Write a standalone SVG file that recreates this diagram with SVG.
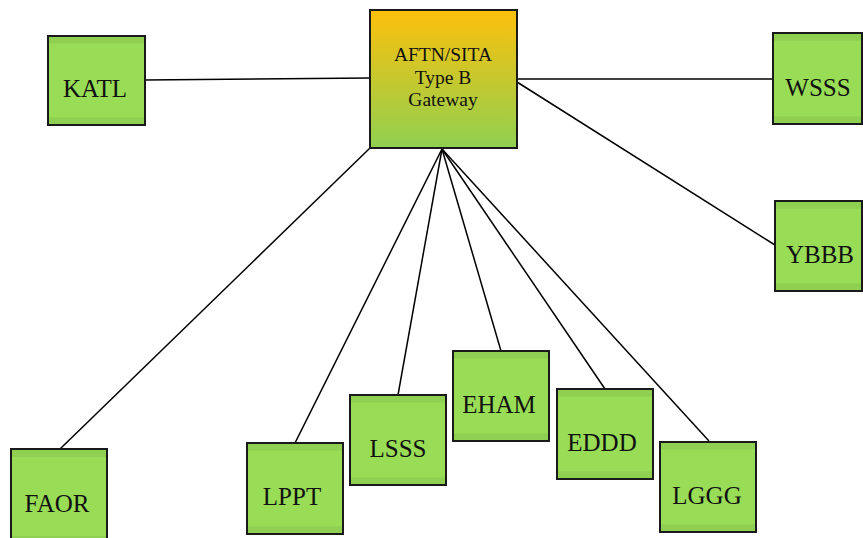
<svg xmlns="http://www.w3.org/2000/svg" width="863" height="538" viewBox="0 0 863 538">
<defs>
<linearGradient id="gw" x1="0" y1="0" x2="0" y2="1">
<stop offset="0" stop-color="#fdc00c"/>
<stop offset="1" stop-color="#90d050"/>
</linearGradient>
<linearGradient id="gn" x1="0" y1="0" x2="0" y2="1">
<stop offset="0" stop-color="#8fd052"/>
<stop offset="0.08" stop-color="#8fd052"/>
<stop offset="0.09" stop-color="#99dd56"/>
<stop offset="0.91" stop-color="#99dd56"/>
<stop offset="0.92" stop-color="#8fd052"/>
<stop offset="1" stop-color="#8fd052"/>
</linearGradient>
</defs>
<style>
.n{fill:url(#gn);stroke:#1a1a1a;stroke-width:2}
.g{fill:url(#gw);stroke:#1a1a1a;stroke-width:2}
.t{font-family:"Liberation Serif","Times New Roman",serif;font-size:25px;fill:#111;text-anchor:middle}
.tg{font-family:"Liberation Serif","Times New Roman",serif;font-size:19.5px;fill:#111;text-anchor:middle}
.c line{stroke:#000;stroke-width:1.5}
</style>
<g class="c" id="connectors">
<line x1="145" y1="80" x2="370" y2="78"/>
<line x1="517" y1="79" x2="773" y2="79"/>
<line x1="517" y1="82" x2="775" y2="245"/>
<line x1="370" y1="148" x2="60" y2="449"/>
<line x1="442" y1="149" x2="295" y2="443"/>
<line x1="442" y1="149" x2="398" y2="395"/>
<line x1="442" y1="149" x2="501" y2="351"/>
<line x1="442" y1="149" x2="605" y2="389"/>
<line x1="442" y1="149" x2="709" y2="441"/>
</g>
<g id="gateway">
<rect class="g" x="370" y="10" width="147" height="138"/>
<text class="tg" x="443" y="61">AFTN/SITA</text>
<text class="tg" x="443" y="84">Type B</text>
<text class="tg" x="443" y="106">Gateway</text>
</g>
<g id="KATL"><rect class="n" x="48" y="36" width="97" height="89"/><text class="t" x="95" y="97">KATL</text></g>
<g id="WSSS"><rect class="n" x="773" y="33" width="89" height="91"/><text class="t" x="818" y="96">WSSS</text></g>
<g id="YBBB"><rect class="n" x="775" y="201" width="87" height="90"/><text class="t" x="820" y="263">YBBB</text></g>
<g id="FAOR"><rect class="n" x="11" y="449" width="96" height="95"/><text class="t" x="57" y="512">FAOR</text></g>
<g id="LPPT"><rect class="n" x="247" y="443" width="96" height="91"/><text class="t" x="292" y="505">LPPT</text></g>
<g id="LSSS"><rect class="n" x="350" y="395" width="96" height="90"/><text class="t" x="398" y="457">LSSS</text></g>
<g id="EHAM"><rect class="n" x="453" y="351" width="96" height="90"/><text class="t" x="499" y="413">EHAM</text></g>
<g id="EDDD"><rect class="n" x="557" y="389" width="96" height="90"/><text class="t" x="602" y="451">EDDD</text></g>
<g id="LGGG"><rect class="n" x="660" y="442" width="96" height="90"/><text class="t" x="707" y="504">LGGG</text></g>
</svg>
